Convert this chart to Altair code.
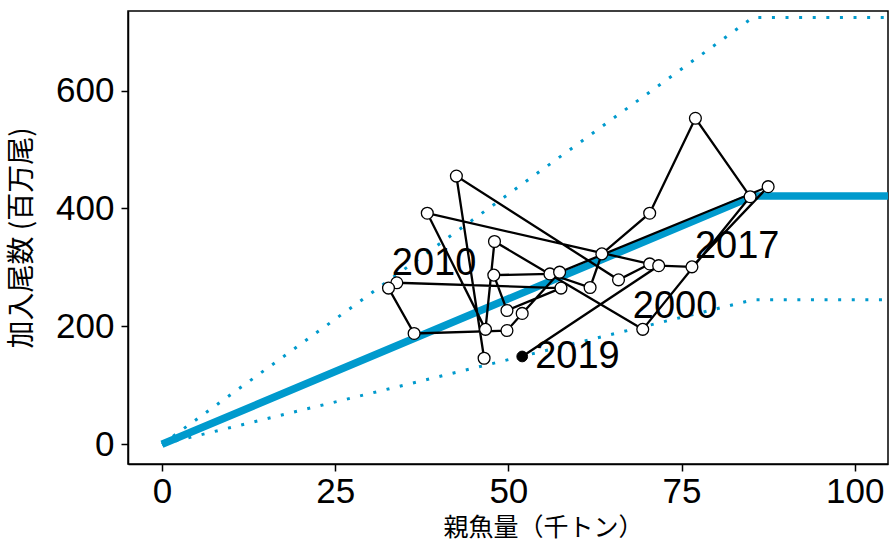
import altair as alt
import pandas as pd

# Spawning stock biomass (thousand t) and recruits (millions), 1993-2019
years = list(range(1993, 2020))
ssb = [46.5, 42.5, 65.9, 70.4, 38.3, 46.7, 48.0, 69.4, 84.9, 77.0,
       70.4, 63.5, 61.8, 56.0, 47.9, 49.8, 57.6, 33.9, 32.7, 36.4,
       49.8, 52.0, 57.4, 87.5, 76.5, 71.7, 52.0]
rec = [146, 455, 279, 306, 392, 195, 344, 195, 420, 553,
       392, 323, 266, 289, 287, 227, 265, 274, 265, 188,
       193, 222, 292, 437, 301, 303, 149]

# Hockey-stick stock-recruitment fit and its prediction band
hs_ssb = [0, 85.3, 104.8]
hs_fit = [0, 421, 421]
hs_upper = [0, 724, 724]
hs_lower = [0, 245, 245]

label_years = [2000, 2010, 2017, 2019]
# text nudges (pixels) per labelled year
label_nudge = {2000: (-10, -11), 2010: (-5, -8), 2017: (3, -9)}

BLUE = "#009ACD"

obs = pd.DataFrame({"year": years, "x": ssb, "y": rec})
fit = pd.DataFrame({"x": hs_ssb, "y": hs_fit})
upper = pd.DataFrame({"x": hs_ssb, "y": hs_upper})
lower = pd.DataFrame({"x": hs_ssb, "y": hs_lower})

X = alt.X("x:Q", title="親魚量（千トン）",
          scale=alt.Scale(domain=[-4.9, 104.8], nice=False, zero=False),
          axis=alt.Axis(values=[0, 25, 50, 75, 100], labelPadding=3,
                        titleX=415, titleY=63, titleAlign="center",
                        titleBaseline="middle", titleFontSize=25))
Y = alt.Y("y:Q", title="加入尾数 (百万尾)",
          scale=alt.Scale(domain=[-33.4, 735], nice=False, zero=False),
          axis=alt.Axis(values=[0, 200, 400, 600], labelPadding=7,
                        titleX=-106, titleBaseline="middle", titleFontSize=28))

band_hi = alt.Chart(upper).mark_line(
    color=BLUE, strokeWidth=3, strokeDash=[3, 10.6], strokeCap="butt", clip=True
).encode(x=X, y=Y)
band_lo = alt.Chart(lower).mark_line(
    color=BLUE, strokeWidth=3, strokeDash=[3, 10.6], strokeCap="butt", clip=True
).encode(x=X, y=Y)
fit_line = alt.Chart(fit).mark_line(
    color=BLUE, strokeWidth=7.5, clip=True
).encode(x=X, y=Y)

path = alt.Chart(obs).mark_line(color="black", strokeWidth=2.3).encode(
    x=X, y=Y, order=alt.Order("year:Q")
)
pts = alt.Chart(obs).transform_filter("datum.year < 2019").mark_point(
    shape="circle", filled=True, fill="white", stroke="black",
    strokeWidth=1.3, size=140, opacity=1
).encode(x=X, y=Y)
last = alt.Chart(obs).transform_filter("datum.year == 2019").mark_point(
    shape="circle", filled=True, fill="black", stroke="black",
    strokeWidth=1, size=115, opacity=1
).encode(x=X, y=Y)

layers = [band_hi, band_lo, fit_line, path, pts, last]

for yr in label_years:
    src = obs[obs["year"] == yr]
    if yr in label_nudge:
        dx, dy = label_nudge[yr]
        mk = alt.Chart(src).mark_text(align="left", baseline="alphabetic",
                                      dx=dx, dy=dy, fontSize=38,
                                      font="Liberation Sans", color="black")
    else:
        mk = alt.Chart(src).mark_text(align="left", baseline="middle",
                                      dx=13, dy=1, fontSize=38,
                                      font="Liberation Sans", color="black")
    layers.append(mk.encode(x=X, y=Y, text=alt.Text("year:N")))

chart = alt.layer(*layers).properties(
    width=760, height=453,
    autosize=alt.AutoSizeParams(type="none"),
    padding={"left": 128, "top": 11, "right": 2, "bottom": 77},
    background="white",
).configure_view(
    stroke="black", strokeWidth=1.5
).configure_axis(
    grid=False, domainColor="black", domainWidth=1.5,
    tickColor="black", tickWidth=1.5, tickSize=7,
    labelFont="Liberation Sans", labelFontSize=35, labelColor="black",
    titleFont="Noto Sans CJK JP",
    titleFontWeight="normal", titleColor="black",
)

chart.save("out.html", embed_options={"renderer": "svg", "actions": False})
